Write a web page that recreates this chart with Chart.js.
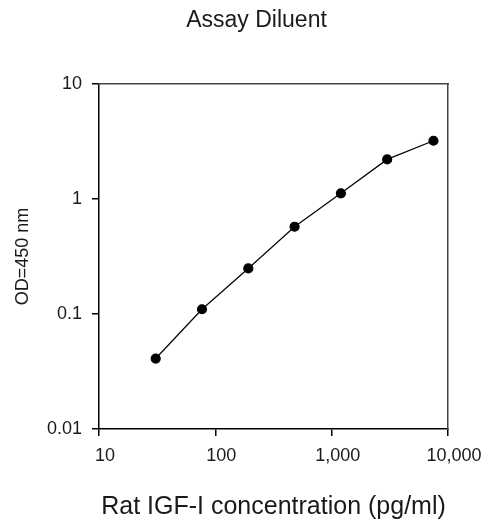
<!DOCTYPE html>
<html>
<head>
<meta charset="utf-8">
<script src="https://cdn.jsdelivr.net/npm/chart.js@4"></script>
<style>
  html, body { margin: 0; padding: 0; background: #fff; }
  #wrap { width: 499px; height: 522px; }
</style>
</head>
<body>
<div id="wrap"><canvas id="c" width="499" height="522"></canvas></div>
<script>
const chartTitle = "Assay Diluent";
const xTitle = "Rat IGF-I concentration (pg/ml)";
const yTitle = "OD=450 nm";
const concentrations = [30.72, 76.8, 192, 480, 1200, 3000, 7500];
const odValues = [0.041, 0.11, 0.249, 0.574, 1.12, 2.21, 3.21];
const xTickValues = [10, 100, 1000, 10000];
const xTickLabels = ["10", "100", "1,000", "10,000"];
const yTickValues = [0.01, 0.1, 1, 10];
const yTickLabels = ["0.01", "0.1", "1", "10"];

const FONT = "'Liberation Sans', Arial, sans-serif";
const points = concentrations.map((x, i) => ({ x: x, y: odValues[i] }));

new Chart(document.getElementById('c'), {
  type: 'line',
  data: {
    datasets: [{
      data: points,
      borderColor: '#000',
      backgroundColor: '#000',
      borderWidth: 1.2,
      pointRadius: 4.5,
      pointStyle: 'circle',
      pointBackgroundColor: '#000',
      pointBorderColor: '#000',
      tension: 0,
      fill: false
    }]
  },
  options: {
    responsive: false,
    animation: false,
    devicePixelRatio: 1,
    layout: { padding: { left: 14, right: 0, top: 0, bottom: 0 } },
    plugins: {
      legend: { display: false },
      tooltip: { enabled: false },
      title: {
        display: true,
        text: chartTitle,
        color: '#1a1a1a',
        font: { family: FONT, size: 23, weight: 'normal', lineHeight: 1.2 },
        padding: { top: 7, bottom: 84 - 7 - 27.6 }
      }
    },
    scales: {
      x: {
        type: 'logarithmic',
        position: 'bottom',
        min: 10, max: 10000,
        afterFit: (s) => { s.height = 93; },
        afterBuildTicks: (s) => { s.ticks = xTickValues.map(v => ({ value: v })); },
        ticks: {
          color: '#1a1a1a',
          font: { family: FONT, size: 18 },
          padding: 9,
          labelOffset: 6,
          maxRotation: 0,
          autoSkip: false,
          callback: (v) => { const i = xTickValues.indexOf(v); return i >= 0 ? xTickLabels[i] : ''; }
        },
        grid: { drawOnChartArea: false, drawTicks: true, tickLength: 7, color: '#000', lineWidth: 1.5 },
        border: { display: true, color: '#000', width: 1.5 },
        title: {
          display: true,
          text: xTitle,
          color: '#1a1a1a',
          font: { family: FONT, size: 25, weight: 'normal', lineHeight: 1.2 },
          padding: { top: 0, bottom: 0 }
        }
      },
      y: {
        type: 'logarithmic',
        position: 'left',
        min: 0.01, max: 10,
        afterFit: (s) => { s.width = 99 - 14; },
        afterBuildTicks: (s) => { s.ticks = yTickValues.map(v => ({ value: v })); },
        ticks: {
          color: '#1a1a1a',
          font: { family: FONT, size: 18 },
          padding: 10,
          autoSkip: false,
          callback: (v) => { const i = yTickValues.indexOf(v); return i >= 0 ? yTickLabels[i] : ''; }
        },
        grid: { drawOnChartArea: false, drawTicks: true, tickLength: 7, color: '#000', lineWidth: 1.5 },
        border: { display: true, color: '#000', width: 1.5 },
        title: {
          display: true,
          text: yTitle,
          color: '#1a1a1a',
          font: { family: FONT, size: 18, weight: 'normal', lineHeight: 1 },
          padding: { top: 0, bottom: 0 }
        }
      },
      x2: {
        type: 'linear',
        position: 'top',
        min: 0, max: 1,
        ticks: { display: false },
        grid: { display: false, drawTicks: false, drawOnChartArea: false },
        border: { display: true, color: '#444', width: 1.5 },
        afterFit: (s) => { s.height = 0; }
      },
      y2: {
        type: 'linear',
        position: 'right',
        min: 0, max: 1,
        ticks: { display: false },
        grid: { display: false, drawTicks: false, drawOnChartArea: false },
        border: { display: true, color: '#444', width: 1.5 },
        afterFit: (s) => { s.width = 51; }
      }
    }
  }
});
</script>
</body>
</html>
